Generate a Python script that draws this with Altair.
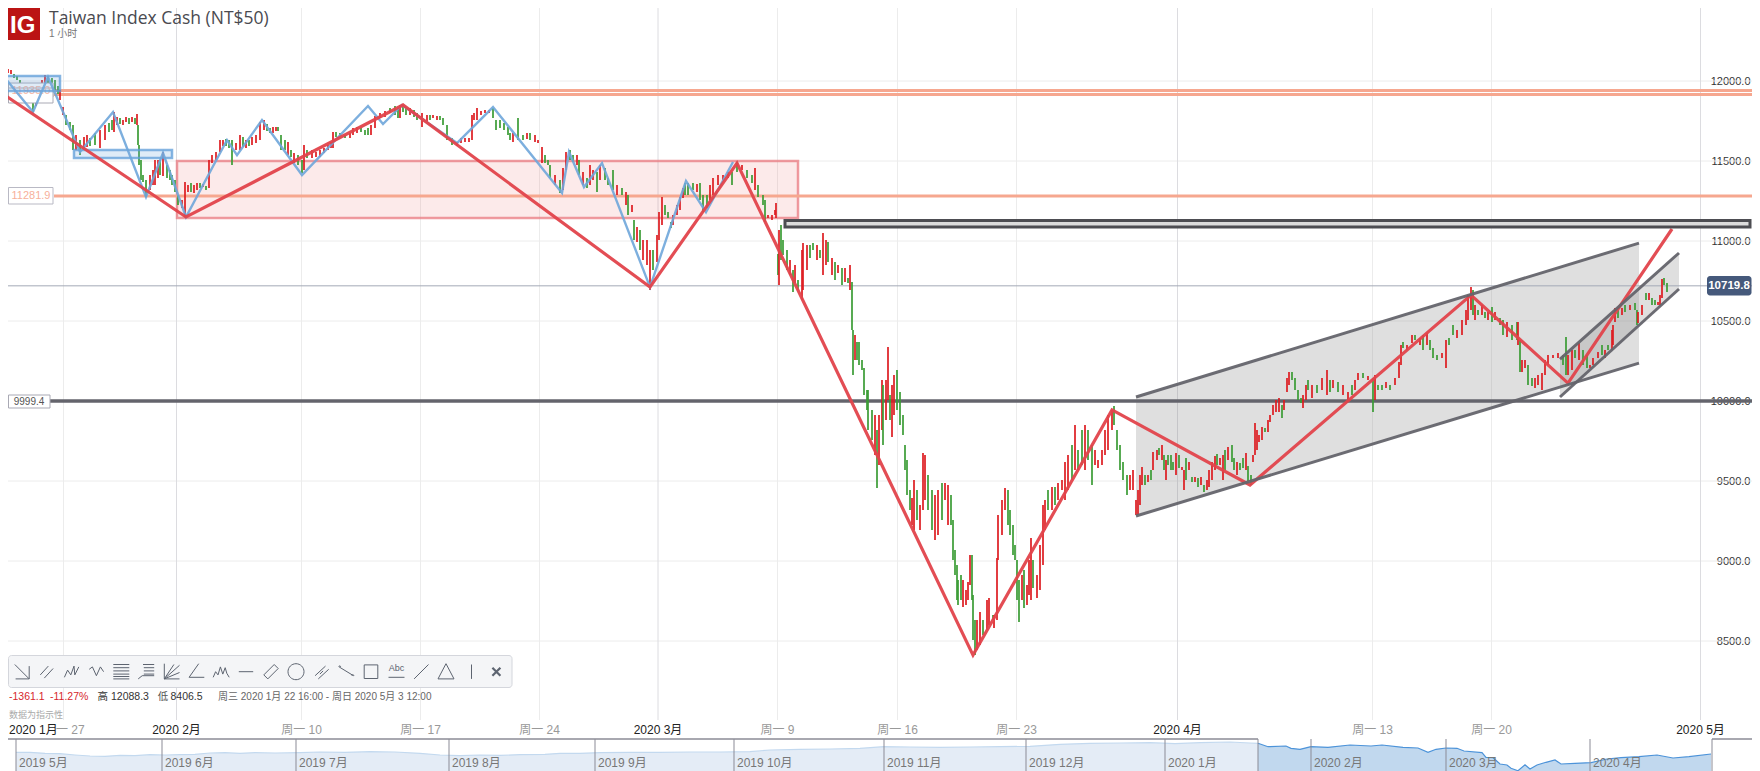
import altair as alt
import pandas as pd

FONT = "Liberation Sans, Noto Sans CJK SC"
UP, DOWN = "#dd1c20", "#3a9c34"
RED, BLUE, ORANGE, SLATE = "#e2434b", "#6fa6da", "#f6a78f", "#64646c"

# bar number, high, low, side
bars_jan = [(2,12081,12056,'g'),(5,12087,12056,'g'),(8,12075,12050,'r'),(11,12069,12044,'r'),(14,12044,12019,'g'),(17,12031,12006,'g'),(20,12006,11981,'g'),(23,11981,11944,'r'),(26,11944,11906,'g'),(29,11912,11881,'g'),(33,11862,11806,'g'),(36,11894,11844,'r'),(39,11944,11894,'r'),(42,12006,11944,'r'),(45,12037,11975,'r'),(48,12031,11981,'g'),(52,12019,11969,'g'),(55,12006,11944,'g'),(58,11969,11919,'g'),(60,11944,11881,'r'),(63,11837,11787,'r'),(66,11787,11725,'g'),(70,11744,11694,'g'),(73,11725,11569,'g'),(76,11662,11569,'r'),(80,11631,11537,'g'),(84,11650,11581,'r'),(87,11662,11587,'r'),(90,11644,11594,'g'),(95,11675,11600,'g'),(100,11694,11581,'r'),(105,11725,11631,'r'),(109,11737,11681,'g'),(112,11756,11694,'g'),(114,11806,11681,'r'),(117,11775,11725,'r'),(120,11769,11731,'g'),(123,11756,11725,'r'),(126,11775,11744,'r'),(129,11769,11731,'g'),(132,11775,11744,'r'),(135,11769,11731,'g'),(137,11794,11725,'r'),(138,11725,11600,'g'),(139,11600,11475,'g'),(141,11506,11381,'g'),(143,11412,11369,'g'),(146,11381,11275,'g'),(150,11412,11319,'r'),(153,11444,11350,'r'),(155,11506,11350,'r'),(158,11506,11394,'r'),(160,11506,11412,'g'),(163,11556,11406,'r'),(167,11475,11394,'g'),(170,11444,11381,'g'),(172,11412,11350,'g'),(175,11381,11306,'g')]

bars_feb = [(178,11287,11225,'g'),(182,11256,11206,'r'),(185,11369,11150,'r'),(188,11350,11306,'r'),(191,11362,11306,'g'),(194,11350,11300,'r'),(197,11362,11319,'r'),(200,11362,11331,'g'),(203,11356,11337,'r'),(206,11344,11319,'g'),(209,11506,11331,'r'),(212,11537,11487,'r'),(216,11556,11506,'r'),(220,11631,11556,'r'),(223,11631,11594,'r'),(226,11637,11594,'g'),(229,11631,11581,'g'),(232,11631,11475,'g'),(236,11612,11569,'r'),(240,11662,11569,'r'),(243,11650,11587,'g'),(246,11631,11581,'r'),(249,11631,11594,'g'),(252,11650,11600,'r'),(256,11662,11612,'r'),(260,11744,11631,'r'),(264,11756,11694,'r'),(267,11731,11687,'g'),(270,11706,11675,'g'),(273,11712,11675,'r'),(276,11712,11687,'r'),(278,11712,11687,'g'),(281,11662,11569,'g'),(285,11631,11569,'g'),(288,11619,11537,'r'),(291,11569,11525,'g'),(294,11550,11487,'r'),(298,11537,11475,'g'),(302,11506,11425,'g'),(304,11600,11444,'r'),(307,11569,11519,'g'),(312,11569,11519,'r'),(316,11556,11525,'r'),(320,11569,11525,'r'),(324,11581,11550,'r'),(328,11600,11569,'r'),(331,11619,11581,'r'),(333,11681,11581,'r'),(336,11681,11650,'g'),(340,11675,11656,'g'),(345,11662,11644,'g'),(350,11675,11644,'r'),(353,11706,11662,'r'),(357,11712,11675,'r'),(361,11706,11681,'g'),(365,11694,11662,'g'),(368,11706,11662,'g'),(371,11725,11662,'r'),(375,11781,11706,'r'),(380,11800,11769,'r'),(385,11812,11775,'r'),(390,11831,11800,'g'),(395,11844,11787,'g'),(398,11831,11769,'g'),(400,11850,11769,'r'),(403,11850,11806,'g'),(406,11831,11787,'g'),(410,11831,11787,'r'),(414,11819,11775,'g'),(417,11800,11756,'g'),(422,11800,11712,'r'),(427,11787,11744,'r'),(430,11787,11756,'g'),(433,11787,11769,'r'),(437,11781,11756,'r'),(440,11781,11756,'g'),(443,11769,11725,'g'),(447,11725,11631,'g'),(452,11644,11600,'g'),(457,11619,11594,'r'),(461,11644,11612,'r'),(465,11644,11619,'r'),(469,11644,11619,'r'),(472,11787,11631,'r'),(474,11800,11756,'r'),(477,11831,11756,'r'),(481,11812,11787,'r'),(485,11819,11800,'r'),(489,11819,11800,'r'),(493,11831,11769,'g'),(496,11756,11694,'g'),(500,11756,11706,'g'),(504,11737,11694,'g'),(508,11712,11662,'g'),(510,11675,11631,'g'),(513,11675,11619,'r'),(518,11769,11631,'g'),(523,11662,11631,'g'),(527,11675,11637,'r'),(530,11675,11631,'g'),(535,11662,11619,'r'),(538,11631,11612,'r'),(542,11587,11487,'r'),(545,11537,11487,'g'),(548,11506,11475,'g'),(550,11475,11394,'g'),(555,11412,11350,'r'),(560,11381,11300,'g'),(563,11456,11319,'r'),(566,11556,11444,'r'),(570,11569,11506,'g'),(573,11537,11494,'g'),(577,11537,11475,'r'),(579,11506,11412,'g'),(583,11431,11350,'r'),(587,11394,11331,'g'),(590,11475,11350,'r'),(593,11444,11381,'r'),(597,11431,11306,'g'),(600,11475,11381,'r'),(605,11456,11381,'g'),(608,11394,11350,'g'),(613,11444,11319,'g'),(617,11350,11287,'r'),(622,11331,11287,'g'),(626,11306,11225,'r'),(628,11287,11162,'g'),(632,11225,11181,'r'),(634,11131,11006,'g'),(637,11087,10994,'r'),(640,11069,10944,'g'),(643,11006,10881,'r'),(647,11006,10850,'r'),(650,10944,10694,'r'),(653,10944,10819,'g'),(657,11037,10869,'r')]

bars_mar = [(659,11181,11006,'r'),(662,11275,11100,'r'),(665,11225,11162,'g'),(668,11181,11144,'g'),(671,11119,11081,'g'),(673,11162,11100,'r'),(677,11225,11162,'r'),(680,11275,11194,'r'),(683,11331,11269,'r'),(685,11362,11287,'g'),(688,11362,11287,'g'),(693,11362,11319,'g'),(697,11356,11306,'r'),(700,11362,11256,'g'),(703,11287,11181,'g'),(707,11287,11206,'g'),(710,11350,11256,'r'),(713,11394,11287,'r'),(718,11412,11350,'r'),(723,11412,11381,'r'),(728,11431,11394,'r'),(732,11431,11350,'g'),(737,11494,11431,'g'),(742,11475,11444,'r'),(747,11444,11394,'g'),(752,11412,11362,'g'),(755,11456,11319,'r'),(758,11350,11275,'g'),(763,11287,11225,'g'),(765,11256,11119,'g'),(768,11162,11144,'r'),(772,11162,11131,'r'),(775,11194,11162,'r'),(776,11237,11144,'r'),(778,10919,10787,'g'),(779,11069,10725,'r'),(781,11100,10881,'g'),(783,11006,10912,'g'),(787,10944,10819,'g'),(790,10881,10787,'r'),(793,10819,10681,'g'),(795,10850,10737,'r'),(798,10756,10694,'g'),(802,10944,10631,'r'),(803,10987,10694,'r'),(807,10975,10819,'r'),(810,10975,10894,'g'),(813,10987,10944,'g'),(817,10975,10881,'r'),(820,10944,10894,'g'),(823,11050,10787,'r'),(826,11006,10850,'r'),(828,10994,10869,'g'),(832,10894,10787,'r'),(835,10869,10756,'g'),(838,10850,10800,'r'),(842,10831,10725,'g'),(845,10831,10744,'r'),(848,10769,10737,'g'),(850,10850,10694,'r'),(852,10744,10444,'g'),(853,10444,10162,'g'),(855,10412,10256,'r'),(857,10369,10256,'g'),(859,10369,10225,'g'),(862,10256,10194,'g'),(864,10206,10037,'g'),(867,10069,9944,'g'),(868,10069,9819,'g'),(872,9944,9756,'g'),(875,9912,9662,'r'),(877,9819,9456,'g'),(879,9912,9600,'r'),(882,10131,9819,'r'),(883,10100,9725,'g'),(886,10131,9881,'r'),(888,10337,10006,'r'),(890,10037,9881,'g'),(892,10100,9775,'r'),(894,10162,9912,'r'),(897,10194,9944,'g'),(900,10056,9850,'g'),(903,9912,9787,'g'),(905,9725,9569,'g'),(907,9631,9412,'g'),(910,9444,9319,'g'),(912,9394,9225,'r'),(914,9506,9194,'r'),(917,9444,9256,'g'),(920,9350,9194,'r'),(923,9675,9319,'r'),(925,9662,9381,'r'),(928,9537,9319,'g'),(932,9444,9194,'g'),(935,9412,9131,'r'),(938,9444,9162,'r'),(942,9487,9256,'g'),(945,9487,9381,'r'),(948,9475,9225,'r'),(951,9412,9225,'g'),(953,9256,9006,'g'),(955,9069,8912,'g'),(957,8975,8756,'g'),(958,8881,8725,'g'),(961,8912,8756,'g'),(963,8881,8712,'r'),(966,8819,8725,'r'),(968,8869,8756,'r'),(970,9037,8850,'r'),(972,9037,8756,'g'),(973,8787,8506,'g'),(975,8631,8412,'g'),(977,8631,8444,'r'),(980,8681,8475,'r'),(983,8631,8537,'g'),(987,8756,8569,'r'),(989,8769,8600,'r'),(993,8662,8631,'g'),(994,8662,8581,'r'),(997,9019,8631,'r'),(998,9287,9006,'r'),(1002,9381,9162,'r'),(1005,9456,9319,'r'),(1008,9444,9225,'g'),(1010,9319,9162,'g'),(1013,9225,9037,'g'),(1015,9100,9006,'g'),(1017,9006,8756,'g'),(1019,8881,8619,'g'),(1022,8912,8756,'r'),(1024,8944,8706,'g'),(1027,8850,8725,'r'),(1029,9006,8787,'r'),(1031,9144,8756,'r'),(1033,9006,8831,'g'),(1037,8912,8769,'r'),(1040,9100,8819,'r'),(1043,9350,8975,'r'),(1045,9381,9194,'r'),(1048,9444,9319,'g'),(1052,9462,9319,'r'),(1055,9462,9350,'g'),(1058,9487,9381,'r'),(1062,9506,9444,'r'),(1065,9619,9381,'r'),(1068,9662,9444,'r'),(1072,9725,9506,'g'),(1075,9850,9569,'r'),(1078,9694,9569,'g'),(1082,9819,9600,'g'),(1085,9850,9569,'r'),(1088,9819,9631,'g'),(1092,9725,9475,'g'),(1095,9694,9600,'r'),(1098,9631,9581,'r'),(1102,9694,9600,'r'),(1105,9819,9662,'r'),(1108,9912,9694,'r'),(1112,9944,9819,'r'),(1114,9969,9850,'g'),(1117,9819,9694,'g'),(1120,9725,9569,'g'),(1123,9619,9506,'g'),(1127,9537,9412,'g'),(1130,9537,9444,'r'),(1133,9569,9444,'r'),(1136,9381,9287,'r'),(1138,9444,9287,'r'),(1140,9537,9350,'r'),(1142,9587,9475,'r'),(1145,9537,9475,'g'),(1148,9537,9494,'r'),(1151,9569,9506,'g'),(1153,9681,9569,'r'),(1157,9694,9631,'r'),(1159,9706,9662,'g'),(1162,9725,9631,'r'),(1164,9662,9569,'g'),(1166,9631,9506,'r'),(1168,9662,9600,'g'),(1171,9662,9569,'g'),(1173,9619,9569,'g'),(1176,9675,9537,'r')]

bars_apr = [(1179,9662,9581,'g'),(1182,9587,9569,'r'),(1184,9569,9444,'r'),(1186,9644,9506,'g'),(1189,9619,9569,'r'),(1192,9525,9494,'g'),(1195,9525,9494,'r'),(1198,9519,9462,'g'),(1201,9525,9475,'r'),(1204,9475,9431,'g'),(1207,9506,9444,'r'),(1209,9569,9462,'r'),(1212,9619,9506,'r'),(1215,9656,9569,'r'),(1217,9669,9600,'g'),(1220,9644,9600,'r'),(1223,9662,9506,'r'),(1225,9694,9569,'g'),(1228,9712,9631,'r'),(1232,9725,9619,'g'),(1234,9644,9569,'g'),(1237,9619,9537,'r'),(1240,9612,9569,'g'),(1243,9644,9581,'g'),(1246,9675,9569,'r'),(1248,9594,9500,'g'),(1251,9537,9475,'g'),(1253,9662,9619,'r'),(1255,9862,9662,'r'),(1257,9819,9694,'r'),(1259,9787,9744,'r'),(1262,9837,9756,'r'),(1265,9831,9806,'g'),(1268,9881,9806,'r'),(1270,9912,9869,'r'),(1273,9975,9912,'r'),(1276,10006,9931,'r'),(1279,10019,9931,'r'),(1282,9975,9894,'g'),(1284,10006,9944,'r'),(1287,10144,10056,'r'),(1289,10181,10100,'r'),(1292,10181,10131,'g'),(1295,10144,10069,'g'),(1298,10069,10006,'g'),(1301,10019,9987,'g'),(1303,10037,9956,'r'),(1306,10100,10006,'r'),(1308,10131,10069,'g'),(1312,10100,10019,'r'),(1317,10100,10050,'g'),(1322,10144,10069,'r'),(1327,10194,10037,'r'),(1330,10131,10056,'g'),(1333,10131,10081,'r'),(1338,10119,10056,'g'),(1343,10100,10037,'r'),(1348,10056,10006,'r'),(1352,10100,10037,'g'),(1355,10131,10069,'r'),(1358,10175,10131,'r'),(1363,10175,10144,'g'),(1368,10156,10131,'r'),(1373,10144,9931,'g'),(1375,10162,10006,'r'),(1378,10100,10069,'g'),(1382,10100,10069,'g'),(1386,10119,10081,'r'),(1390,10100,10069,'g'),(1395,10144,10100,'r'),(1399,10244,10144,'r'),(1401,10350,10225,'r'),(1403,10369,10331,'g'),(1407,10350,10319,'r'),(1412,10412,10362,'r'),(1415,10412,10381,'g'),(1420,10394,10350,'r'),(1423,10412,10319,'g'),(1427,10425,10350,'r'),(1430,10381,10319,'g'),(1433,10331,10269,'g'),(1437,10287,10256,'g'),(1442,10300,10269,'r'),(1446,10381,10206,'r'),(1449,10394,10350,'g'),(1453,10475,10412,'g'),(1457,10444,10394,'r'),(1462,10506,10412,'r'),(1466,10569,10475,'r'),(1468,10662,10506,'r'),(1471,10712,10569,'r'),(1473,10694,10537,'g'),(1475,10600,10506,'r'),(1478,10569,10537,'g'),(1482,10600,10537,'r'),(1485,10556,10519,'g'),(1488,10556,10506,'r'),(1492,10587,10494,'g'),(1495,10556,10506,'r'),(1500,10519,10475,'g'),(1503,10506,10412,'g'),(1507,10494,10400,'r'),(1512,10475,10381,'g'),(1517,10494,10381,'g'),(1518,10494,10350,'r'),(1520,10381,10181,'g'),(1522,10256,10181,'r'),(1525,10256,10206,'r'),(1528,10225,10100,'g'),(1532,10144,10094,'g'),(1535,10144,10081,'r'),(1538,10162,10100,'r'),(1542,10175,10069,'r'),(1545,10256,10162,'r'),(1548,10287,10225,'r'),(1553,10287,10269,'r'),(1558,10300,10269,'r'),(1563,10287,10225,'g'),(1566,10400,10162,'g'),(1568,10287,10162,'r'),(1572,10319,10194,'r'),(1575,10319,10269,'g'),(1579,10362,10256,'r'),(1583,10319,10225,'g'),(1587,10287,10206,'g'),(1590,10225,10206,'r'),(1593,10269,10225,'r'),(1598,10306,10269,'r'),(1602,10350,10287,'g'),(1605,10319,10269,'r'),(1608,10350,10319,'g'),(1612,10444,10319,'r'),(1613,10475,10350,'r'),(1615,10581,10494,'r'),(1618,10569,10519,'g'),(1622,10581,10537,'r'),(1625,10600,10556,'g'),(1630,10600,10569,'r'),(1635,10612,10569,'g'),(1637,10569,10475,'g'),(1638,10556,10487,'r'),(1642,10600,10537,'r'),(1646,10675,10631,'g'),(1649,10675,10631,'r'),(1652,10644,10600,'g'),(1655,10631,10600,'g'),(1658,10619,10600,'r'),(1660,10662,10600,'r'),(1662,10762,10644,'r'),(1664,10769,10725,'g'),(1667,10737,10681,'g')]

blue_zigzag = [(0,12056),(33,11806),(48,12025),(55,11925),(80,11556),(113,11806),(146,11275),(163,11550),(186,11150),(227,11631),(237,11537),(262,11756),(302,11412),(368,11844),(383,11731),(402,11850),(457,11612),(493,11837),(562,11300),(569,11556),(584,11337),(602,11487),(650,10712),(686,11375),(706,11181),(733,11494)]
red_zigzag = [(0,11931),(186,11150),(403,11850),(650,10712),(737,11487),(973,8412),(1112,9944),(1250,9475),(1471,10662),(1568,10112),(1672,11075)]

channels = [
    {"x": 1136, "x2": 1639, "top": 10025, "top2": 10987, "bot": 9281, "bot2": 10237},
    {"x": 1560, "x2": 1679, "top": 10262, "top2": 10925, "bot": 10025, "bot2": 10700},
]
price_levels = [12000, 11500, 11000, 10500, 10000, 9500, 9000, 8500]

overview_points = [(16,10760),(30,10760),(45,10627),(60,10583),(75,10405),(90,10271),(105,10227),(120,10360),(135,10316),(150,10449),(165,10405),(180,10449),(195,10494),(210,10672),(225,10716),(240,10627),(255,10716),(275,10672),(300,10716),(320,10805),(345,10760),(370,10850),(395,10805),(420,10627),(440,10405),(460,10316),(480,10405),(500,10360),(520,10449),(545,10494),(560,10627),(580,10627),(600,10716),(630,10760),(660,10760),(690,10805),(720,10805),(750,10850),(770,11072),(800,11161),(830,11206),(860,11295),(884,11517),(910,11473),(940,11428),(970,11473),(1000,11517),(1030,11562),(1060,11829),(1090,11962),(1120,12007),(1150,12051),(1175,11917),(1200,12051),(1230,12140),(1250,12007),(1258,11966)]
overview_selected = [(1258,11966),(1268,11513),(1286,11606),(1291,11299),(1300,11165),(1311,11513),(1328,11432),(1350,11740),(1371,11606),(1382,11740),(1403,11432),(1418,11340),(1428,10765),(1436,11165),(1446,11340),(1457,11299),(1464,10939),(1482,10712),(1486,10097),(1493,10044),(1500,9203),(1507,9070),(1511,8629),(1518,8308),(1525,9110),(1530,8535),(1537,9070),(1546,9430),(1555,9737),(1561,9203),(1575,9297),(1591,9377),(1607,9870),(1621,10044),(1639,10178),(1657,10405),(1673,10004),(1689,10178),(1711,10538)]

week_lines = [63.5, 301.5, 420.5, 539.5, 777.5, 897.5, 1016.5, 1372.5, 1491.5]
month_lines = [176.5, 658, 1177.5, 1700.5]
x_labels = [(176.5,"2020 2月",1),(301.5,"周一 10",0),(420.5,"周一 17",0),(539.5,"周一 24",0),(658,"2020 3月",1),(777.5,"周一 9",0),(897.5,"周一 16",0),(1016.5,"周一 23",0),(1177.5,"2020 4月",1),(1372.5,"周一 13",0),(1491.5,"周一 20",0),(1700.5,"2020 5月",1)]
overview_months = [(16,"2019 5月"),(162,"2019 6月"),(296,"2019 7月"),(449,"2019 8月"),(595,"2019 9月"),(734,"2019 10月"),(884,"2019 11月"),(1026,"2019 12月"),(1165,"2020 1月"),(1311,"2020 2月"),(1446,"2020 3月"),(1590,"2020 4月")]

toolbar_x = [22,46.7,71.6,96.4,121.3,146.2,171.5,196.3,221.2,246,271,296,321.5,346.3,371,396.5,421.3,446,471.5,496.4]
toolbar_paths = [
 "M-0.9,-0.9L0.9,0.9M0.9,-0.7L0.9,0.9L-0.8,0.9",
 "M-0.8,0.4L0.2,-0.7M-0.3,0.8L0.8,-0.4",
 "M-0.9,0.7L-0.5,-0.2L-0.1,0.4L0.3,-0.7L0.4,0.4L0.9,-0.6",
 "M-0.9,-0.3L-0.5,-0.6L0,0.5L0.5,-0.6L0.9,0",
 "M-1,-0.9L1,-0.9M-1,-0.5L1,-0.5M-1,-0.1L1,-0.1M-1,0.3L1,0.3M-1,0.6L1,0.6M-1,0.9L1,0.9",
 "M-0.4,-0.9L1,-0.9M-0.3,-0.5L1,-0.5M-0.3,-0.1L1,-0.1M-0.3,0.3L1,0.3M-1,0.9L-0.5,0.5L1,0.5",
 "M-0.9,-1L-0.9,0.9L1,0.9M-0.9,0.9L1,-0.8M-0.9,0.9L1,0.1M-0.9,0.9L0.3,-0.9",
 "M-0.9,0.7L0.3,-1M-0.9,0.7L1,0.7",
 "M-1,0.7L-0.7,0L-0.4,0.4L-0.1,-0.6L0.2,0.3L0.5,-0.5L0.7,0.2L1,0.7",
 "M-0.9,0L0.9,0",
 "M-0.9,0.4L0.4,-0.9L0.9,-0.4L-0.4,0.9Z",
 "M-1,0A1,1,0,1,1,1,0A1,1,0,1,1,-1,0",
 "M-0.8,0.5L0.5,-0.7M-0.4,0.9L0.9,-0.3M-0.2,0.3L0.2,-0.1",
 "M-0.9,-0.6L0.9,0.5M-0.95,-0.6A0.12,0.12,0,1,1,-0.7,-0.6M0.7,0.5A0.12,0.12,0,1,1,0.95,0.5",
 "M-0.85,-0.85L0.85,-0.85L0.85,0.85L-0.85,0.85Z",
 "M-1,0.7L1,0.7",
 "M-0.9,0.9L0.9,-0.9",
 "M0,-1L1,0.9L-1,0.9Z",
 "M0,-0.9L0,0.9",
 "M-0.5,-0.5L0.5,0.5M0.5,-0.5L-0.5,0.5",
]

# --- scales -----------------------------------------------------------------
W, H = 1744, 763
x_scale = alt.Scale(domain=[8, 1752], nice=False, zero=False)
y_scale = alt.Scale(domain=[7687.5, 12456.25], nice=False, zero=False)
ov_scale = alt.Scale(domain=[8268.5, 110129], nice=False, zero=False)


def X(f):
    return alt.X(f, type="quantitative", scale=x_scale, axis=None)


def Y(f, scale=y_scale):
    return alt.Y(f, type="quantitative", scale=scale, axis=None)


def text(x, y, s, size=11, color="#333", align="left", weight="normal", font=FONT):
    return alt.Chart().mark_text(text=s, fontSize=size, color=color, align=align, baseline="middle",
                                 fontWeight=weight, font=font).encode(x=alt.value(x - 8), y=alt.value(y - 8))


def box(x0, y0, x1, y1, fill, stroke=None, sw=1, radius=0, opacity=1):
    kw = dict(fill=fill, fillOpacity=opacity, cornerRadius=radius)
    if stroke:
        kw.update(stroke=stroke, strokeWidth=sw)
    return alt.Chart().mark_rect(**kw).encode(x=alt.value(x0 - 8), x2=alt.value(x1 - 8),
                                              y=alt.value(y0 - 8), y2=alt.value(y1 - 8))


def hline(price, x0, color, sw):
    df = pd.DataFrame({"a": [x0], "b": [1752], "p": [price]})
    return alt.Chart(df).mark_rule(color=color, strokeWidth=sw).encode(X("a"), x2="b", y=Y("p"))


def zone(x0, x1, hi, lo, fill, stroke, sw, opacity, edge=0.75):
    df = pd.DataFrame({"a": [x0], "b": [x1], "hi": [hi], "lo": [lo]})
    return alt.Chart(df).mark_rect(fill=fill, fillOpacity=opacity, stroke=stroke, strokeWidth=sw,
                                   strokeOpacity=edge).encode(X("a"), x2="b", y=Y("hi"), y2="lo")


def polyline(points, color, sw, opacity=1):
    df = pd.DataFrame(points, columns=["bar", "price"])
    return alt.Chart(df).mark_line(color=color, strokeWidth=sw, opacity=opacity).encode(X("bar"), Y("price"))


layers = []

# horizontal price grid + the price axis
layers.append(alt.Chart(pd.DataFrame({"p": price_levels})).mark_rule(color="#ececec", strokeWidth=1).encode(
    y=alt.Y("p:Q", scale=y_scale, axis=alt.Axis(orient="right", values=price_levels, format=".1f", title=None,
                                                domain=False, ticks=False, grid=False, labelPadding=-2,
                                                labelAlign="right", labelFontSize=11, labelColor="#333",
                                                labelFont=FONT))))

for xs, col in ((week_lines, "#ececec"), (month_lines, "#dcdce0")):
    df = pd.DataFrame({"x": xs, "a": 8006.0, "b": 12456.0})
    layers.append(alt.Chart(df).mark_rule(color=col, strokeWidth=1).encode(X("x"), y=Y("a"), y2="b"))

# channels
for c in channels:
    poly = pd.DataFrame({"bar": [c["x"], c["x2"]], "top": [c["top"], c["top2"]], "bot": [c["bot"], c["bot2"]]})
    layers.append(alt.Chart(poly).mark_area(color="#8c8c8c", opacity=0.28).encode(X("bar"), y=Y("top"), y2="bot"))

# zones and levels
layers.append(zone(177, 798, 11500, 11144, "#ea5a5a", "#ea7a80", 2.5, 0.13))
layers.append(hline(11281.9, 54, ORANGE, 3))
layers.append(hline(11940, 54, ORANGE, 3))
layers.append(hline(11915, 54, ORANGE, 3))
layers.append(hline(10719.8, 8, "#a3a9b7", 1))
layers.append(hline(10000, 50, SLATE, 3.5))

# candles
bars = pd.DataFrame(bars_jan + bars_feb + bars_mar + bars_apr, columns=["bar", "high", "low", "side"])
layers.append(alt.Chart(bars).mark_rule(strokeWidth=1.7).encode(
    X("bar"), y=Y("high"), y2="low",
    color=alt.Color("side:N", scale=alt.Scale(domain=["r", "g"], range=[UP, DOWN]), legend=None)))

# level flags
for y0, y1 in ((83, 97), (88, 103)):
    layers.append(box(8.5, y0, 53, y1, "white", "#a9a9b4", 1))
layers.append(text(31, 91, "11935.0", 11, "#f7b7a3", "center"))
layers.append(box(8.5, 187.5, 53, 204, "white", "#b9b9c4", 1))
layers.append(text(31, 196, "11281.9", 11, "#f7b09a", "center"))
layers.append(box(8.5, 395, 50, 408, "white", "#a9a9b4", 1))
layers.append(text(29, 401.5, "9999.4", 10, "#555", "center"))

# drawn boxes
layers.append(zone(-5, 60, 12031, 11937, "#6fa6da", "#5d9cd8", 2.5, 0.22))
layers.append(zone(74, 172, 11569, 11519, "#6fa6da", "#5d9cd8", 2.5, 0.22))
layers.append(polyline(blue_zigzag, BLUE, 2.4, 0.9))
layers.append(polyline(red_zigzag, RED, 3.2, 0.95))

# channel borders
for c in channels:
    layers.append(polyline([(c["x"], c["top"]), (c["x2"], c["top2"])], SLATE, 3, 0.95))
    layers.append(polyline([(c["x"], c["bot"]), (c["x2"], c["bot2"])], SLATE, 3, 0.95))

# resistance box
layers.append(zone(785, 1750, 11128, 11087, "#dcdcdc", "#4d4d52", 3, 1, 1))

# price tag
layers.append(box(1707, 276, 1751.5, 295.5, "#45597b", radius=3))
layers.append(text(1729, 286, "10719.8", 11.5, "white", "center", "bold"))

# header
layers.append(box(8, 8, 40, 40, "#bb1414"))
layers.append(text(10, 26, "IG", 24, "white", "left", "bold"))
layers.append(text(49, 19, "Taiwan Index Cash (NT$50)", 17.5, "#4a4a50", font="Open Sans, Noto Sans CJK SC"))
layers.append(text(49, 34, "1 小时", 10, "#777"))

# toolbar
layers.append(box(8.5, 655.5, 512, 687.5, "#f4f5f7", "#d4d6dc", 1, 3))
icons = pd.DataFrame({"x": toolbar_x, "path": toolbar_paths, "w": [1.0] * 19 + [2.2]})
layers.append(alt.Chart(icons).mark_point(filled=False, size=256, color="#5d6470", opacity=1).encode(
    X("x"), y=alt.value(663.7),
    shape=alt.Shape("path:N", scale=None), strokeWidth=alt.StrokeWidth("w:Q", scale=None)))
layers.append(text(396.5, 668, "Abc", 9, "#5d6470", "center"))

# stats line
for x, s, col, fs in ((9, "-1361.1", "#d6262c", 10.5), (50, "-11.27%", "#d6262c", 10.5), (97.6, "高", "#333", 10.5),
                      (111, "12088.3", "#333", 10.5), (157.7, "低", "#555", 10.5), (170.5, "8406.5", "#333", 10.5),
                      (218, "周三 2020 1月 22 16:00 - 周日 2020 5月 3 12:00", "#666", 10)):
    layers.append(text(x, 696.7, s, fs, col))
layers.append(text(9, 714.7, "数据为指示性", 9, "#aaa"))

# time labels
layers.append(text(9, 730, "2020 1月", 12, "#222"))
layers.append(text(56, 730, "一 27", 12, "#999"))
for x, s, major in x_labels:
    layers.append(text(x, 730, s, 12, "#222" if major else "#999", "center"))

# overview
ov = pd.DataFrame(overview_points, columns=["bar", "v"])
ov["base"] = 8268.5
sel = pd.DataFrame(overview_selected, columns=["bar", "v"])
sel["base"] = 8268.5
layers.append(alt.Chart(ov).mark_area(color="#e4ecf6").encode(X("bar"), y=Y("v", ov_scale), y2="base"))
layers.append(alt.Chart(ov).mark_line(color="#c3d9ef", strokeWidth=1.2).encode(X("bar"), y=Y("v", ov_scale)))
layers.append(alt.Chart(sel).mark_area(color="#c1d8ee").encode(X("bar"), y=Y("v", ov_scale), y2="base"))
layers.append(alt.Chart(sel).mark_line(color="#4c93d9", strokeWidth=1.2).encode(X("bar"), y=Y("v", ov_scale)))

sep = pd.DataFrame({"x": [m[0] for m in overview_months] + [1258, 1712]})
layers.append(alt.Chart(sep).mark_rule(color="#8b8b96", strokeWidth=1).encode(X("x"), y=alt.value(731), y2=alt.value(763)))
sep2 = pd.DataFrame({"a": [8, 1712], "b": [1258, 1752]})
layers.append(alt.Chart(sep2).mark_rule(color="#8b8b96", strokeWidth=1.3).encode(X("a"), x2="b", y=alt.value(731)))
for x, s in overview_months:
    layers.append(text(x + 3, 763, s, 12, "#777"))

chart = alt.layer(*layers).resolve_scale(y="independent").properties(
    width=W, height=H, padding=0, autosize=alt.AutoSizeParams(type="none"),
    background="white"
).configure_view(strokeWidth=0)

chart.save("out.html", embed_options={"renderer": "svg", "actions": False})
